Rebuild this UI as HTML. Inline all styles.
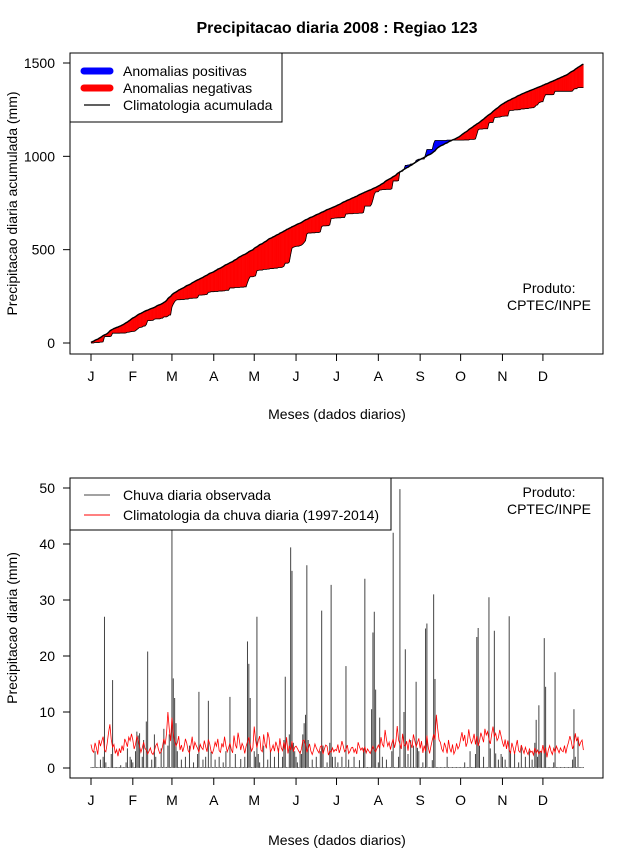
<!DOCTYPE html>
<html><head><meta charset="utf-8"><style>
body{margin:0;background:#fff}
svg{display:block;font-family:"Liberation Sans",Arial,sans-serif}
</style></head><body>
<svg id="chart" width="640" height="850" viewBox="0 0 640 850">
<text x="337" y="33" text-anchor="middle" font-size="16" font-weight="bold">Precipitacao diaria 2008 : Regiao 123</text>
<g id="top"></g>
<g id="bot"></g>
</svg>
<script>
const monthLabels=["J","F","M","A","M","J","J","A","S","O","N","D"];
const monthStartDays=[1,32,61,92,122,153,183,214,245,275,306,336];
const topTicks=[0,500,1000,1500];
const botTicks=[0,10,20,30,40,50];
const climDaily=[
4.2,3.1,2.8,4.5,3.6,2.4,5.0,3.9,4.8,5.6,3.2,2.9,4.4,6.3,7.8,5.1,3.7,4.2,2.6,3.3,2.1,3.5,2.7,4.0,3.1,5.2,4.6,3.8,5.5,4.9,6.1,
5.0,3.4,4.2,5.6,5.0,3.9,2.8,3.6,4.6,3.5,3.2,2.5,3.0,3.6,2.7,2.4,3.1,4.0,4.4,3.3,2.6,2.9,3.8,5.2,4.2,6.2,10.0,7.0,4.8,
9.0,6.2,4.8,3.9,4.5,5.7,3.2,4.1,2.9,3.8,5.2,4.4,3.1,2.7,4.0,5.6,3.3,4.6,4.0,3.5,2.8,4.2,3.6,3.3,4.9,3.8,2.9,5.1,4.3,3.0,2.6,
3.4,4.6,3.9,5.2,3.1,2.8,4.4,3.7,5.6,4.0,2.9,3.6,4.5,3.3,2.7,5.8,4.2,3.5,6.3,4.9,3.2,4.4,3.8,2.6,3.9,4.7,5.5,4.1,3.0,3.6,
7.4,5.0,3.6,4.9,5.7,3.2,2.9,6.0,4.3,3.5,6.4,5.4,2.8,3.4,4.1,3.0,4.7,3.9,2.7,5.3,3.6,3.1,4.6,3.3,5.5,2.6,4.0,3.2,4.8,2.9,3.7,
3.9,3.5,3.0,2.6,3.4,4.9,5.0,4.2,2.8,3.5,4.3,3.0,2.4,3.2,4.3,3.6,3.1,2.7,3.8,4.0,2.5,3.4,4.1,3.9,2.3,3.0,2.8,3.6,2.9,3.3,
3.1,4.2,2.7,3.5,4.8,3.9,2.9,3.3,4.1,2.6,3.0,3.6,3.7,2.8,3.4,2.5,4.6,3.8,3.2,3.6,2.9,3.8,2.7,3.4,3.0,2.6,3.3,3.9,3.3,2.9,3.5,
4.1,3.5,5.5,4.2,3.8,6.8,5.1,3.9,4.6,3.3,4.4,5.2,3.6,4.7,7.5,5.0,4.3,3.4,6.1,4.2,3.9,4.8,3.1,5.0,4.4,3.6,6.0,4.9,3.8,4.5,5.3,
3.5,4.8,2.7,4.0,3.0,5.8,3.7,2.6,3.9,5.0,6.0,5.0,9.5,7.0,5.0,4.6,3.4,2.9,4.5,3.7,2.6,5.0,3.5,2.8,4.2,2.5,3.1,4.4,3.4,3.9,
5.2,6.4,4.8,5.9,3.8,4.6,6.9,5.3,4.4,5.0,6.1,4.2,5.7,3.9,4.8,6.3,5.5,4.6,7.0,5.9,6.5,5.1,4.3,6.0,7.4,5.6,6.2,4.9,5.4,6.8,5.7,
4.6,3.8,5.1,3.4,4.9,3.2,2.7,4.5,3.6,2.5,3.9,5.0,3.1,2.8,4.1,3.3,2.6,3.7,2.9,2.4,3.4,2.8,3.0,2.3,3.6,2.7,3.2,2.5,3.0,2.8,
4.1,2.6,3.7,1.9,3.2,4.0,3.0,2.4,3.5,2.8,3.9,3.3,2.7,3.6,3.1,2.9,4.0,2.6,3.8,4.6,5.7,4.8,3.4,4.1,6.2,4.8,5.5,3.9,4.6,5.0,3.2];
const obsDaily=[
0,0,0,3.0,0,0,0,1.5,0,2.0,27.0,1.0,0,0,0,2.5,15.7,0,0,0,0,0,0.5,0,0,0,1.0,3.5,0,2.0,1.5,
1.0,0,3.0,6.5,5.8,6.2,0,2.0,5.0,0,8.3,20.8,0,0,1.5,0,6.0,2.0,0,0,0,3.5,0,7.0,0,0,4.0,6.0,0,
42.5,16.0,12.5,8.0,3.0,0,0,1.5,0,0,2.0,0,0,4.0,0,0,1.0,0,0,2.5,13.6,0,0,1.5,0,2.0,0,12.0,0,2.9,0,
0,1.5,0,0,2.0,0,0,1.0,0,3.0,0,0,12.7,0,0,0,2.5,0,0,0,1.6,0,0,2.0,0,22.6,18.6,12.5,0,0,
3.0,2.0,27.0,2.5,1.0,0,0,4.0,0,0,1.5,0,3.0,0,0,2.0,0,0,3.5,0,0,2.0,5.0,16.3,0,0,6.0,39.4,35.2,4.5,3.0,
2.0,1.0,0,3.0,2.5,6.0,8.0,9.5,36.2,5.0,0,0,1.5,0,0,2.0,0,0,3.0,28.1,4.0,0,0,1.0,0,4.5,32.7,2.0,0,2.0,
0,1.0,0,0,2.0,0,0,18.2,0,1.5,0,0,0,2.0,0,0,0,1.4,0,0,3.5,33.8,0,0,0,0,10.5,24.2,27.9,14.0,0,
1.0,9.0,0,2.0,0,0,1.5,0,0,0,3.0,42.0,0,0,0,2.0,49.8,0,0,10.0,21.2,0,2.5,0,5.0,0,4.0,0,15.4,3.6,3.0,
0,0,1.0,0,24.9,25.8,0,0,0,1.4,31.0,15.9,0,0,0,0,0,0,0,0,2.0,0,0,0,0,0,0,0,0,0,
0,0,0,1.0,0,0,0,3.0,0,0,0,2.5,23.4,25.0,4.0,0,0,2.0,0,0,0,30.5,3.5,0,0,24.5,2.6,0,1.5,0,2.5,
2.0,0,1.5,0,0,27.1,3.0,0,0,2.5,0,0,1.0,0,4.0,0,0,2.0,0,0,3.0,0,1.5,0,4.5,8.6,2.0,11.2,3.0,3.0,
0,23.2,14.5,0,0,0,0,0,1.0,17.1,0,0,0,0,0,0,0,0,0,0,0,0,1.5,10.5,2.0,0,5.6,0,0,0,0];

const NS="http://www.w3.org/2000/svg";
function mk(parent,tag,attrs){const e=document.createElementNS(NS,tag);for(const k in attrs)e.setAttribute(k,attrs[k]);parent.appendChild(e);return e;}
const X=d=>91+(d-1)*1.349;
const L=70,R=603;
const topY=v=>343-v*0.18667;
const botY=v=>768-v*5.6;

function frame(g,top,bottom,yTicks,yf,ylabel,xlabelY){
  const b=mk(g,"rect",{x:L,y:top,width:R-L,height:bottom-top,fill:"none",stroke:"#000","stroke-width":1});
  
  
  yTicks.forEach(t=>{
    const y=yf(t);
    const ln=mk(g,"line",{x1:L,x2:L-7,y1:y,y2:y,stroke:"#000"});
    
    
    const tx=mk(g,"text",{x:L-15,y:y+5,"text-anchor":"end","font-size":14});
    tx.textContent=t;
    
    
  });
  const ax=mk(g,"line",{x1:L,x2:L,y1:yf(yTicks[0]),y2:yf(yTicks[yTicks.length-1]),stroke:"#000"});
  
  
  monthStartDays.forEach((d,i)=>{
    const x=X(d);
    const ln=mk(g,"line",{x1:x,x2:x,y1:bottom,y2:bottom+7,stroke:"#000"});
    
    
    const tx=mk(g,"text",{x:x,y:bottom+27,"text-anchor":"middle","font-size":14});
    tx.textContent=monthLabels[i];
    
    
  });
  const xl=mk(g,"line",{x1:X(monthStartDays[0]),x2:X(monthStartDays[11]),y1:bottom,y2:bottom,stroke:"#000"});
  
  
  const xt=mk(g,"text",{x:337,y:xlabelY,"text-anchor":"middle","font-size":14});
  xt.textContent="Meses (dados diarios)";
  
  
  const cy=(top+bottom)/2;
  const yt=mk(g,"text",{x:17,y:cy,"text-anchor":"middle","font-size":14,transform:`rotate(-90 17 ${cy})`});
  yt.textContent=ylabel;
  
  
}
function produto(g,y){
  const t1=mk(g,"text",{x:549,y:y,"text-anchor":"middle","font-size":14});t1.textContent="Produto:";
  
  
  const t2=mk(g,"text",{x:549,y:y+17,"text-anchor":"middle","font-size":14});t2.textContent="CPTEC/INPE";
  
  
}

const gt=document.getElementById("top");
const n=climDaily.length;
const cc=[],co=[];let a=0,b=0;
for(let i=0;i<n;i++){a+=climDaily[i];b+=obsDaily[i];cc.push(a);co.push(b);}
frame(gt,53,354,topTicks,topY,"Precipitacao diaria acumulada (mm)",419);
const fillG=mk(gt,"g",{});


for(let i=0;i<n-1;i++){
  const x0=X(i+1),x1=X(i+2);
  const d0=co[i]-cc[i],d1=co[i+1]-cc[i+1];
  const segs=[];
  if(d0*d1<0){
    const t=d0/(d0-d1);
    const xm=x0+(x1-x0)*t,vm=cc[i]+(cc[i+1]-cc[i])*t;
    segs.push([x0,cc[i],co[i],xm,vm,vm,d0]);
    segs.push([xm,vm,vm,x1,cc[i+1],co[i+1],d1]);
  } else segs.push([x0,cc[i],co[i],x1,cc[i+1],co[i+1],d0+d1]);
  segs.forEach(s=>{
    const p=mk(fillG,"polygon",{points:`${s[0]},${topY(s[1])} ${s[3]},${topY(s[4])} ${s[3]},${topY(s[5])} ${s[0]},${topY(s[2])}`,fill:s[6]>=0?"#0000ff":"#ff0000",stroke:s[6]>=0?"#0000ff":"#ff0000","stroke-width":0.4});
    
    
  });
}
const po=mk(gt,"polyline",{points:co.map((v,i)=>`${X(i+1)},${topY(v)}`).join(" "),fill:"none",stroke:"#000","stroke-width":0.8});


const pc=mk(gt,"polyline",{points:cc.map((v,i)=>`${X(i+1)},${topY(v)}`).join(" "),fill:"none",stroke:"#000","stroke-width":1.4});


produto(gt,293);
const lg=mk(gt,"g",{});


mk(lg,"rect",{x:70,y:53,width:212,height:69,fill:"#fff",stroke:"#000"});
[["#0000ff",7,"Anomalias positivas",71],["#ff0000",7,"Anomalias negativas",88],["#000",1.3,"Climatologia acumulada",105]].forEach(e=>{
  const ln=mk(lg,"line",{x1:84,x2:110,y1:e[3],y2:e[3],stroke:e[0],"stroke-width":e[1],"stroke-linecap":e[1]>2?"round":"butt"});
  
  
  const t=mk(lg,"text",{x:123,y:e[3]+5,"font-size":14});t.textContent=e[2];
  
  
});

const gb=document.getElementById("bot");
frame(gb,478,778,botTicks,botY,"Precipitacao diaria (mm)",845);
const barG=mk(gb,"g",{});


obsDaily.forEach((v,i)=>{
  const x=X(i+1);
  const l=mk(barG,"line",{x1:x,x2:x,y1:botY(0),y2:botY(Math.max(v,0.15)),stroke:"#444","stroke-width":1});
  
  
});
const cl=mk(gb,"polyline",{points:climDaily.map((v,i)=>`${X(i+1)},${botY(v)}`).join(" "),fill:"none",stroke:"#ff0000","stroke-width":0.8});


produto(gb,497);
const lg2=mk(gb,"g",{});


mk(lg2,"rect",{x:70,y:478,width:321,height:52,fill:"#fff",stroke:"#000"});
[["#444","Chuva diaria observada",495],["#ff0000","Climatologia da chuva diaria (1997-2014)",515]].forEach(e=>{
  const ln=mk(lg2,"line",{x1:84,x2:110,y1:e[2],y2:e[2],stroke:e[0],"stroke-width":1});
  
  
  const t=mk(lg2,"text",{x:123,y:e[2]+5,"font-size":14});t.textContent=e[1];
  
  
});
</script>
</body></html>
